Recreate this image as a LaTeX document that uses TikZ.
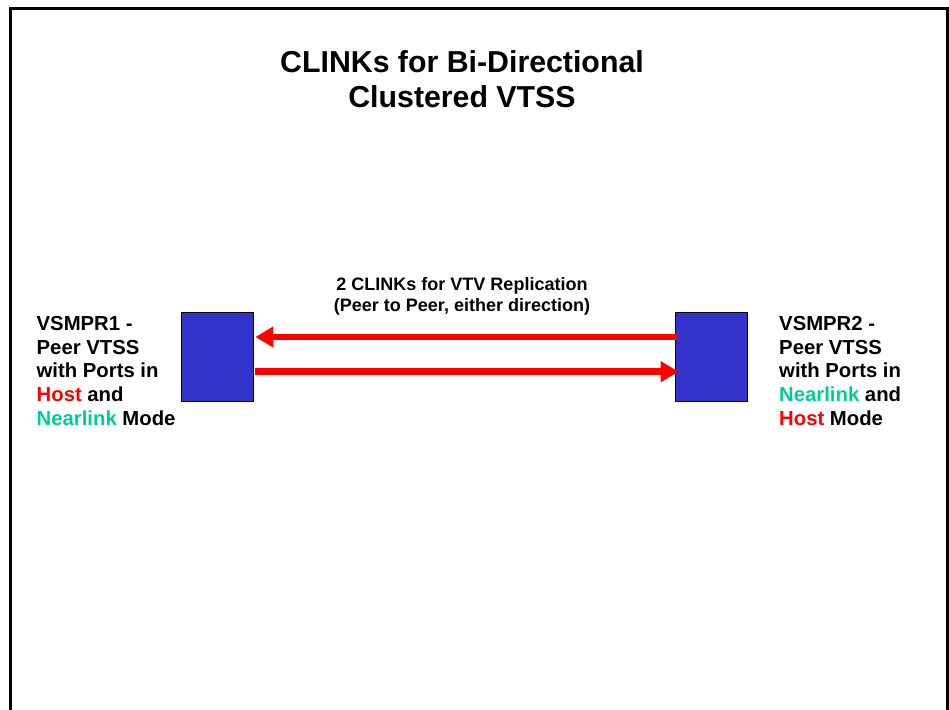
\documentclass[tikz,border=0pt]{standalone}
\usepackage{fontspec}
\setmainfont{Liberation Sans}
\usetikzlibrary{arrows.meta,calc}
\definecolor{boxblue}{RGB}{51,51,204}
\definecolor{linkred}{RGB}{255,0,0}
\definecolor{neargreen}{RGB}{0,204,153}
\tikzset{
  vtssbox/.style={draw=black, line width=0.8pt, fill=boxblue, minimum width=72pt, minimum height=89pt, inner sep=0pt},
  clink/.style={draw=linkred, line width=6.8pt, -{Triangle[length=18pt,width=20pt]}, linkred},
  sidelabel/.style={anchor=base west, inner sep=0pt, align=left, font=\bfseries\fontsize{20.3pt}{23.7pt}\selectfont},
  titlelabel/.style={anchor=base, inner sep=0pt, align=center, font=\bfseries\fontsize{30.3pt}{35pt}\selectfont},
  midlabel/.style={anchor=base, inner sep=0pt, align=center, font=\bfseries\fontsize{18pt}{21pt}\selectfont},
  frameline/.style={draw=black, line width=3pt}
}
\begin{document}
\begin{tikzpicture}[x=1pt,y=-1pt]
\useasboundingbox (0,0) rectangle (949,709);
\fill[white] (0,0) rectangle (949,709);
\draw[frameline] (10.5,712) -- (10.5,8.5) -- (947.5,8.5) -- (947.5,712);
\node[titlelabel] (title) at (462,107) {CLINKs for Bi-Directional\\Clustered VTSS};
\node[vtssbox] (b1) at (217,356.5) {};
\node[vtssbox] (b2) at (711,356.5) {};
\node[midlabel] (mid) at (462,311) {2 CLINKs for VTV Replication\\(Peer to Peer, either direction)};
\draw[clink] ($(b2.west)+(3,-19.5)$) -- ($(b1.east)+(2,-19.5)$);
\draw[clink] ($(b1.east)+(2,15.2)$) -- ($(b2.west)+(4,15.2)$);
\node[sidelabel] (l1) at (36.5,425.3) {VSMPR1 -\\Peer VTSS\\with Ports in\\\textcolor{linkred}{Host} and\\\textcolor{neargreen}{Nearlink} Mode};
\node[sidelabel] (l2) at (779,425.3) {VSMPR2 -\\Peer VTSS\\with Ports in\\\textcolor{neargreen}{Nearlink} and\\\textcolor{linkred}{Host} Mode};
\end{tikzpicture}
\end{document}
